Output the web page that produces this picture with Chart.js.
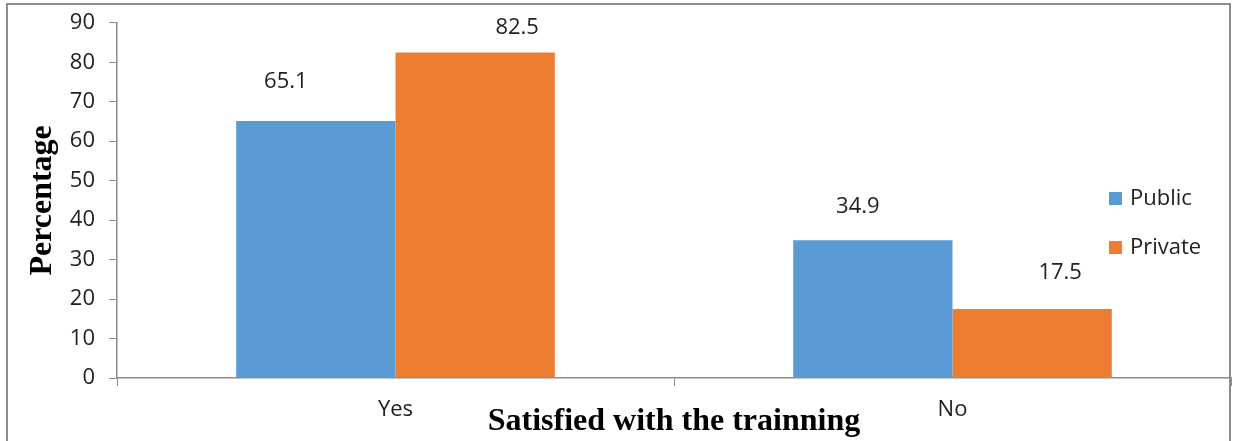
<!DOCTYPE html>
<html>
<head>
<meta charset="utf-8">
<script src="https://cdn.jsdelivr.net/npm/chart.js@4/dist/chart.umd.min.js"></script>
<style>
  html, body { margin: 0; padding: 0; background: #fff; }
  #wrap { position: relative; width: 1238px; height: 441px; }
  #frame { position: absolute; left: 6px; top: 3px; width: 1225px; height: 450px;
           border: 2px solid #8c8c8c; box-sizing: border-box; pointer-events: none; }
</style>
</head>
<body>
<div id="wrap">
  <canvas id="chart" width="1238" height="441"></canvas>
  <div id="frame"></div>
</div>
<script>
// Data
const categories = ['Yes', 'No'];
const publicValues = [65.1, 34.9];
const privateValues = [82.5, 17.5];
const yTicks = [0, 10, 20, 30, 40, 50, 60, 70, 80, 90];

const sansFamily = '"Open Sans", "Liberation Sans", sans-serif';
const tickFont = { family: sansFamily, size: 22, lineHeight: 0.8 };

// where Excel put the value labels, relative to each bar (dx, gap above)
const labelNudge = [
    [[-30, 39], [-15, 34]],
    [[42, 25], [28, 36]]
];

const valueLabels = {
    id: 'valueLabels',
    afterDatasetsDraw(chart) {
        const ctx = chart.ctx;
        ctx.save();
        ctx.font = '22px ' + sansFamily;
        ctx.fillStyle = '#222';
        ctx.textAlign = 'center';
        ctx.textBaseline = 'middle';
        chart.data.datasets.forEach((ds, i) => {
            chart.getDatasetMeta(i).data.forEach((bar, j) => {
                const n = labelNudge[i][j];
                ctx.fillText(ds.data[j].toFixed(1), bar.x + n[0], bar.y - n[1]);
            });
        });
        ctx.restore();
    }
};

const sideLegend = {
    id: 'sideLegend',
    afterDraw(chart) {
        const ctx = chart.ctx;
        ctx.save();
        ctx.font = '22px ' + sansFamily;
        ctx.textBaseline = 'middle';
        ctx.textAlign = 'left';
        chart.data.datasets.forEach((ds, i) => {
            const y = 199 + i * 49;
            ctx.fillStyle = ds.backgroundColor;
            ctx.fillRect(1109, y - 7, 13, 13);
            ctx.fillStyle = '#222';
            ctx.fillText(ds.label, 1130, y);
        });
        ctx.restore();
    }
};

const ctx = document.getElementById('chart').getContext('2d');
new Chart(ctx, {
    type: 'bar',
    data: {
        labels: categories,
        datasets: [
            { label: 'Public', data: publicValues, backgroundColor: '#5B9BD5' },
            { label: 'Private', data: privateValues, backgroundColor: '#ED7D31' }
        ]
    },
    options: {
        responsive: false,
        animation: false,
        layout: { padding: { top: 18, right: 7, left: 0, bottom: 0 } },
        plugins: { legend: { display: false }, tooltip: { enabled: false } },
        datasets: { bar: { barPercentage: 1, categoryPercentage: 0.572 } },
        scales: {
            x: {
                grid: { display: true, drawOnChartArea: false, tickLength: 8, color: '#8c8c8c', offset: true },
                border: { color: '#8c8c8c', width: 1.5 },
                ticks: { font: { family: sansFamily, size: 22 }, color: '#222', padding: 11 },
                title: {
                    display: true,
                    text: 'Satisfied with the trainning',
                    font: { family: '"Liberation Serif", serif', size: 32, weight: 'bold' },
                    color: '#000',
                    padding: { top: -12, bottom: 0 }
                },
                afterFit(scale) { scale.height = 63; }
            },
            y: {
                min: 0,
                max: 90,
                afterBuildTicks(scale) { scale.ticks = yTicks.map(v => ({ value: v })); },
                grid: { display: true, drawOnChartArea: false, tickLength: 8, color: '#8c8c8c' },
                border: { color: '#8c8c8c', width: 1.5 },
                ticks: { font: tickFont, color: '#222', padding: 14 },
                title: {
                    display: true,
                    text: 'Percentage',
                    font: { family: '"Liberation Serif", serif', size: 32, weight: 'bold' },
                    color: '#000',
                    padding: { top: 24, bottom: 0 }
                },
                afterFit(scale) { scale.width = 117; }
            }
        }
    },
    plugins: [valueLabels, sideLegend]
});
</script>
</body>
</html>
